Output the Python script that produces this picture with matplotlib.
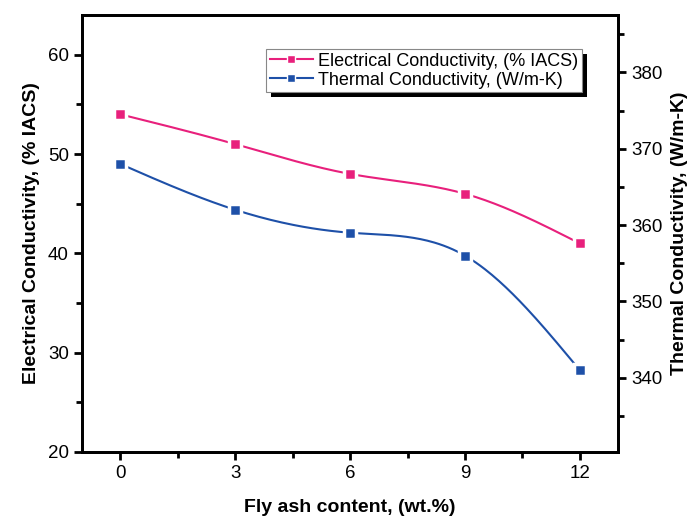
import numpy as np
import matplotlib
matplotlib.use("Agg")
import matplotlib.pyplot as plt
from matplotlib.ticker import MultipleLocator
from matplotlib.patches import Rectangle
from matplotlib.transforms import IdentityTransform

plt.rcParams['font.family'] = ['Liberation Sans', 'DejaVu Sans']

# data
fly_ash = [0, 3, 6, 9, 12]
elec_cond = [54, 51, 48, 46, 41]          # % IACS, left axis
therm_cond = [368, 362, 359, 356, 341]    # W/m-K, right axis

pink = '#E8207C'
blue = '#1E50A8'


def natural_spline(x, y, n=200):
    # plain natural cubic spline, no scipy here
    x = np.asarray(x, float)
    y = np.asarray(y, float)
    k = len(x)
    h = np.diff(x)
    A = np.zeros((k, k))
    r = np.zeros(k)
    A[0, 0] = A[-1, -1] = 1
    for i in range(1, k - 1):
        A[i, i - 1] = h[i - 1]
        A[i, i] = 2 * (h[i - 1] + h[i])
        A[i, i + 1] = h[i]
        r[i] = 3 * ((y[i + 1] - y[i]) / h[i] - (y[i] - y[i - 1]) / h[i - 1])
    c = np.linalg.solve(A, r)
    xs = np.linspace(x[0], x[-1], n)
    ys = np.empty_like(xs)
    for j, xv in enumerate(xs):
        i = min(np.searchsorted(x, xv, side='right') - 1, k - 2)
        b = (y[i + 1] - y[i]) / h[i] - h[i] * (2 * c[i] + c[i + 1]) / 3
        d = (c[i + 1] - c[i]) / (3 * h[i])
        t = xv - x[i]
        ys[j] = y[i] + b * t + c[i] * t ** 2 + d * t ** 3
    return xs, ys


fig = plt.figure(figsize=(6.96, 5.2), dpi=100)
ax = fig.add_axes([0.118, 0.131, 0.770, 0.840])
ax2 = ax.twinx()

xs, ys = natural_spline(fly_ash, elec_cond)
ax.plot(xs, ys, color=pink, lw=1.5, zorder=2)
ax.plot(fly_ash, elec_cond, ls='none', marker='s', ms=8, color=pink,
        mec='white', mew=2.5, zorder=3)

xs, ys = natural_spline(fly_ash, therm_cond)
ax2.plot(xs, ys, color=blue, lw=1.5, zorder=2)
ax2.plot(fly_ash, therm_cond, ls='none', marker='s', ms=8, color=blue,
         mec='white', mew=2.5, zorder=3)

ax.set_xlim(-1, 13)
ax.set_ylim(20, 64)
ax2.set_ylim(330.3, 387.5)

ax.xaxis.set_major_locator(MultipleLocator(3))
ax.xaxis.set_minor_locator(MultipleLocator(1.5))
ax.yaxis.set_major_locator(MultipleLocator(10))
ax.yaxis.set_minor_locator(MultipleLocator(5))
ax2.yaxis.set_major_locator(MultipleLocator(10))
ax2.yaxis.set_minor_locator(MultipleLocator(5))

for a in (ax, ax2):
    for s in a.spines.values():
        s.set_linewidth(2)
    a.tick_params(which='major', length=6, width=2, labelsize=13.5)
    a.tick_params(which='minor', length=4, width=2)
ax.tick_params(axis='x', which='both', top=False)

ax.set_xlabel('Fly ash content, (wt.%)', fontsize=14, fontweight='bold',
              labelpad=12)
ax.set_ylabel('Electrical Conductivity, (% IACS)', fontsize=14,
              fontweight='bold', labelpad=6)
ax2.set_ylabel('Thermal Conductivity, (W/m-K)', fontsize=14,
               fontweight='bold', labelpad=6)

h1 = ax.plot([], [], color=pink, lw=1.5, marker='s', ms=6,
             mec='white', mew=1)[0]
h2 = ax.plot([], [], color=blue, lw=1.5, marker='s', ms=6,
             mec='white', mew=1)[0]
leg = ax.legend([h1, h2], ['Electrical Conductivity, (% IACS)',
                           'Thermal Conductivity, (W/m-K)'],
                loc='upper right', bbox_to_anchor=(0.933, 0.922),
                fontsize=13, frameon=True, fancybox=False, framealpha=1,
                handlelength=2.4, handletextpad=0.3, borderpad=0.2,
                labelspacing=0.1, borderaxespad=0)
leg.get_frame().set_edgecolor('#888888')
leg.get_frame().set_linewidth(0.8)
leg.set_zorder(10)
ax.set_zorder(ax2.get_zorder() + 1)
ax.patch.set_visible(False)

# black drop shadow behind the legend box
fig.canvas.draw()
bb = leg.get_frame().get_window_extent()
shadow = Rectangle((bb.x0 + 5, bb.y0 - 5), bb.width, bb.height,
                   transform=IdentityTransform(), facecolor='black',
                   edgecolor='none', zorder=9, clip_on=False)
ax.add_patch(shadow)

fig.savefig('out.png', dpi=100)
